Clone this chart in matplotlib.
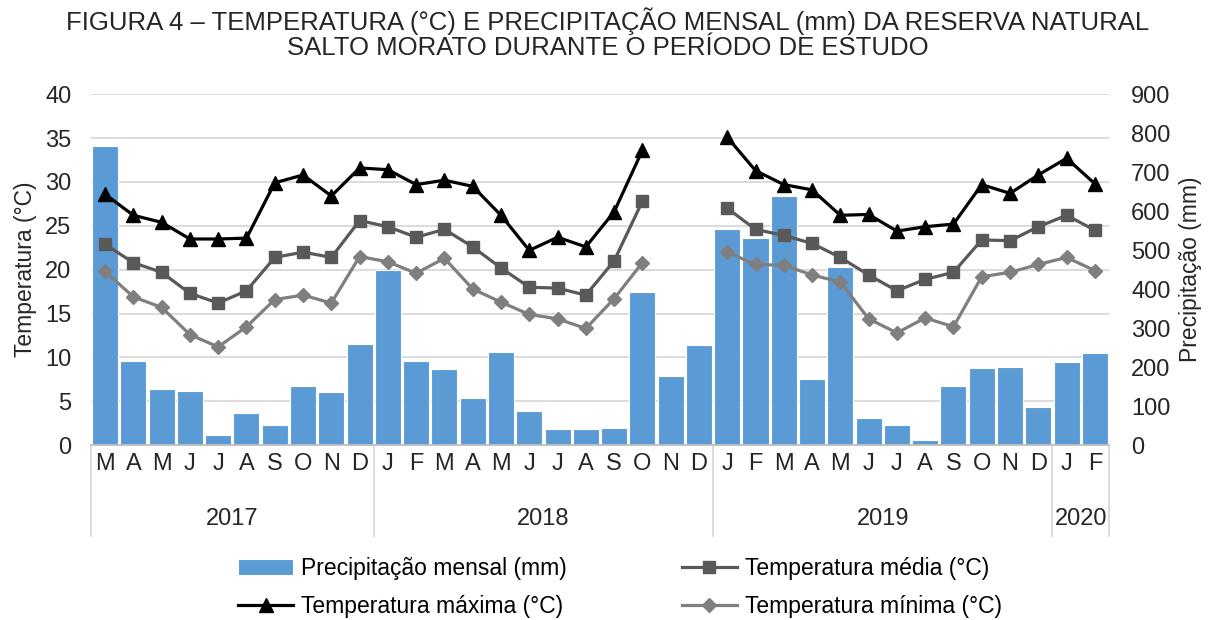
import numpy as np
import matplotlib.pyplot as plt
from matplotlib.lines import Line2D

plt.rcParams['font.family'] = ['Liberation Sans', 'DejaVu Sans']

months = ['M', 'A', 'M', 'J', 'J', 'A', 'S', 'O', 'N', 'D',
          'J', 'F', 'M', 'A', 'M', 'J', 'J', 'A', 'S', 'O', 'N', 'D',
          'J', 'F', 'M', 'A', 'M', 'J', 'J', 'A', 'S', 'O', 'N', 'D',
          'J', 'F']
years = ['2017', '2018', '2019', '2020']
year_counts = [10, 12, 12, 2]

precip = [766, 216, 144, 140, 25, 82, 52, 151, 137, 259,
          450, 216, 196, 121, 239, 87, 41, 41, 45, 393, 177, 256,
          555, 532, 640, 170, 457, 70, 51, 12, 151, 197, 200, 98,
          213, 236]

nan = np.nan
t_max = [28.6, 26.2, 25.4, 23.5, 23.5, 23.6, 29.9, 30.8, 28.4, 31.6,
         31.4, 29.7, 30.2, 29.5, 26.2, 22.2, 23.7, 22.6, 26.6, 33.6, nan, nan,
         35.1, 31.3, 29.7, 29.1, 26.2, 26.3, 24.4, 24.9, 25.2, 29.7, 28.7, 30.8,
         32.7, 29.8]
t_med = [22.9, 20.8, 19.7, 17.3, 16.2, 17.6, 21.4, 22.0, 21.4, 25.6,
         24.9, 23.7, 24.6, 22.6, 20.2, 18.0, 17.9, 17.1, 21.0, 27.8, nan, nan,
         27.0, 24.6, 23.9, 23.0, 21.4, 19.4, 17.6, 18.9, 19.7, 23.4, 23.3, 24.9,
         26.2, 24.5]
t_min = [19.8, 16.9, 15.7, 12.6, 11.2, 13.5, 16.6, 17.1, 16.2, 21.5,
         20.9, 19.6, 21.3, 17.8, 16.3, 14.9, 14.4, 13.3, 16.7, 20.8, nan, nan,
         22.0, 20.6, 20.5, 19.4, 18.6, 14.4, 12.8, 14.5, 13.5, 19.2, 19.7, 20.6,
         21.4, 19.9]

x = np.arange(len(months))

fig = plt.figure(figsize=(12.16, 6.2), dpi=100)
ax = fig.add_axes([0.0748, 0.282, 0.8372, 0.566])
ax2 = ax.twinx()
ax.set_zorder(ax2.get_zorder() + 1)
ax.patch.set_visible(False)

# precipitation bars (right axis)
bars = ax2.bar(x, precip, width=0.92, color='#5B9BD5', edgecolor='white',
               linewidth=0.8, zorder=2, label='Precipitação mensal (mm)')
ax2.set_ylim(0, 900)
ax2.set_yticks(np.arange(0, 901, 100))
# gridlines follow the temperature ticks
for t in np.arange(5, 41, 5):
    ax2.axhline(t * 900 / 40, color='#D9D9D9', linewidth=1.3, zorder=1)

l_max, = ax.plot(x, t_max, color='black', linewidth=2.3, marker='^',
                 markersize=10, label='Temperatura máxima (°C)')
l_med, = ax.plot(x, t_med, color='#595959', linewidth=2.3, marker='s',
                 markersize=9, label='Temperatura média (°C)')
l_min, = ax.plot(x, t_min, color='#7F7F7F', linewidth=2.3, marker='D',
                 markersize=7, label='Temperatura mínima (°C)')

ax.set_ylim(0, 40)
ax.set_yticks(np.arange(0, 41, 5))
ax.set_xlim(-0.5, len(months) - 0.5)
ax.set_xticks(x)
ax.set_xticklabels(months)

for a in (ax, ax2):
    for s in a.spines.values():
        s.set_visible(False)
ax.spines['bottom'].set_visible(True)
ax.spines['bottom'].set_color('#BFBFBF')
ax.spines['bottom'].set_linewidth(1.3)

ax.tick_params(axis='y', length=0, labelsize=17, colors='#262626', pad=14)
ax.tick_params(axis='x', length=0, labelsize=17, colors='#262626', pad=6)
ax2.tick_params(axis='y', length=0, labelsize=17, colors='#262626', pad=16)

ax.set_ylabel('Temperatura (°C)', fontsize=16.5, color='#262626', labelpad=6)
ax2.set_ylabel('Precipitação (mm)', fontsize=16.5, color='#262626', labelpad=6)

# year groups below the month labels
trans = ax.get_xaxis_transform()
bounds = np.concatenate([[0], np.cumsum(year_counts)]) - 0.5
for b in bounds:
    ax.add_line(Line2D([b, b], [0, -0.26], transform=trans, color='#D9D9D9',
                       linewidth=1.3, clip_on=False))
for i, yr in enumerate(years):
    ax.text((bounds[i] + bounds[i + 1]) / 2, -0.21, yr, transform=trans,
            ha='center', va='center', fontsize=17, color='#262626')

fig.suptitle('FIGURA 4 – TEMPERATURA (°C) E PRECIPITAÇÃO MENSAL (mm) DA RESERVA NATURAL\n'
             'SALTO MORATO DURANTE O PERÍODO DE ESTUDO',
             fontsize=18.5, y=0.988, linespacing=1.05, color='#262626')

fig.legend([bars, l_max, l_med, l_min],
           [bars.get_label(), l_max.get_label(), l_med.get_label(), l_min.get_label()],
           ncol=2, loc='lower center', bbox_to_anchor=(0.51, -0.03), frameon=False,
           fontsize=16.5, columnspacing=5.0, handlelength=2.4, labelspacing=0.65,
           handletextpad=0.35)

fig.savefig('out.png', dpi=100)
